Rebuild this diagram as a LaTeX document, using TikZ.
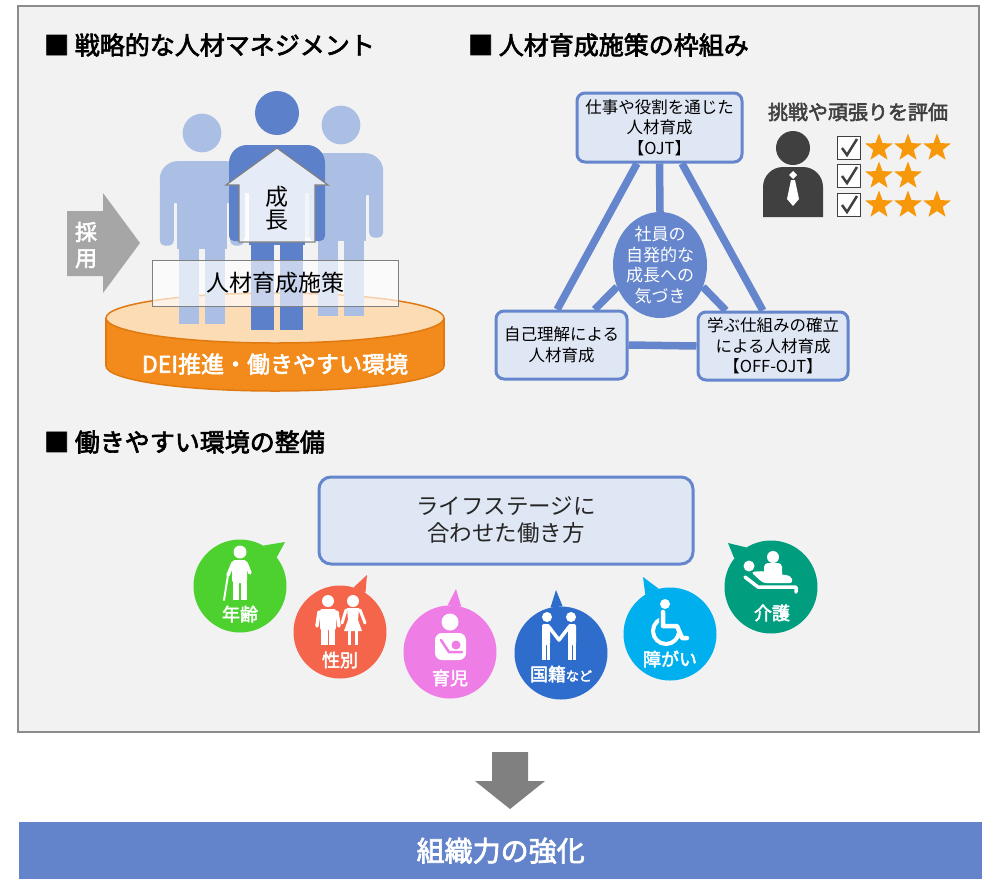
\documentclass[tikz,border=0pt]{standalone}
\usepackage{fontspec}
\setmainfont{Noto Sans CJK JP}
\newfontfamily\semibold{Noto Sans CJK JP}[FakeBold=2.6]
\usetikzlibrary{shapes.geometric,calc}

% colours
\definecolor{panelfill}{HTML}{F2F2F2}
\definecolor{panelline}{HTML}{8C8C8C}
\definecolor{boxfill}{HTML}{E0E7F4}
\definecolor{boxline}{HTML}{6586CC}
\definecolor{textdark}{HTML}{262626}
\definecolor{staffdark}{HTML}{5D80CB}
\definecolor{stafflight}{HTML}{ABBFE4}
\definecolor{baseside}{HTML}{F28B1C}
\definecolor{baseedge}{HTML}{E07A10}
\definecolor{basetop}{HTML}{FCDCB5}
\definecolor{hiregray}{HTML}{A6A6A6}
\definecolor{evaldark}{HTML}{404040}
\definecolor{stargold}{HTML}{F7980B}
\definecolor{ageclr}{HTML}{4CD12F}
\definecolor{genderclr}{HTML}{F4654C}
\definecolor{childclr}{HTML}{EE7DE5}
\definecolor{nationclr}{HTML}{2E6DCC}
\definecolor{disabclr}{HTML}{00B0EE}
\definecolor{careclr}{HTML}{009E7E}
\definecolor{resultbar}{HTML}{6383CA}

\tikzset{
  heading/.style={anchor=west, inner sep=0pt, font=\fontsize{25}{30}\semibold},
  policy/.style={draw=boxline, line width=3pt, fill=boxfill, rounded corners=8pt,
    align=center, inner sep=2pt, font=\fontsize{16.5}{20.5}\selectfont},
  link/.style={boxline, line width=7.5pt},
  bubble/.style={circle, minimum size=93pt, inner sep=0pt},
  bubbletext/.style={text=white, inner sep=0pt, font=\fontsize{18}{20}\semibold},
  icon/.style={white, line cap=round, line join=round},
  tickbox/.style={draw=evaldark, line width=1.8pt, fill=white, minimum size=23pt, inner sep=0pt},
  rate/.style={star, star points=5, star point ratio=2.4, fill=stargold, minimum size=29pt, inner sep=0pt},
  % standing person, head centre at the origin
  pics/staff/.style={code={
    \fill[#1] (0,0) circle (22);
    \fill[#1, rounded corners=18pt] (-48,80) -- (-48,32) -- (48,32) -- (48,80) -- cycle;
    \fill[#1, rounded corners=5pt] (-48,60) rectangle (-32,128);
    \fill[#1, rounded corners=5pt] (32,60) rectangle (48,128);
    \fill[#1] (-28,60) rectangle (28,132);
    \fill[#1] (-26,125) rectangle (-3,217);
    \fill[#1] (3,125) rectangle (26,217);
  }}
}

\begin{document}
\begin{tikzpicture}[x=1pt, y=-1pt]
\useasboundingbox (0,0) rectangle (982,879);
\fill[white] (0,0) rectangle (982,879);

% grey panel
\draw[panelline, line width=2.5pt, fill=panelfill] (18,6) rectangle (979,732);

% headings
\node[heading] (hmanage) at (44,45) {■ 戦略的な人材マネジメント};
\node[heading] (hframe) at (468,45) {■ 人材育成施策の枠組み};
\node[heading] (henv) at (44,442) {■ 働きやすい環境の整備};

% base cylinder
\fill[baseside] (106,318) rectangle (444,366);
\fill[baseside] (275,366) ellipse (169 and 25);
\begin{scope}
  \clip (100,366) rectangle (450,400);
  \draw[baseedge, line width=1.5pt] (275,366) ellipse (169 and 25);
\end{scope}
\draw[baseedge, line width=1.5pt] (106,318) -- (106,366) (444,318) -- (444,366);
\draw[baseedge, line width=1.5pt, fill=basetop] (275,318) ellipse (169 and 25);
\node[text=white, font=\fontsize{23}{26}\semibold] (dei) at (275,364) {DEI推進・働きやすい環境};

% staff
\pic[scale=0.88] at (202,133) {staff=stafflight};
\pic[scale=0.88] at (341,125) {staff=stafflight};
\pic at (277,113) {staff=staffdark};

% growth arrow
\filldraw[draw=gray, line width=1.2pt, fill=white, fill opacity=0.85]
  (277,148) -- (328,185) -- (315,185) -- (315,242) -- (239,242) -- (239,185) -- (226,185) -- cycle;
\node[font=\fontsize{23}{23}\selectfont, align=center] (growth) at (277,208) {成\\長};

\node[draw=gray, line width=1pt, fill=white, fill opacity=0.65, text opacity=1,
  minimum width=246pt, minimum height=46pt, font=\fontsize{23}{26}\selectfont] (policy) at (275,283) {人材育成施策};

% hiring arrow
\fill[hiregray] (67,211) -- (103,211) -- (103,193) -- (140,243) -- (103,293) -- (103,276) -- (67,276) -- cycle;
\node[text=white, font=\fontsize{22}{26}\semibold, align=center] (hire) at (86,245) {採\\用};

% training framework
\node[policy, minimum width=165pt, minimum height=69pt] (ojt) at (659.5,127.5) {仕事や役割を通じた\\人材育成\\【OJT】};
\node[policy, minimum width=131pt, minimum height=68pt] (self) at (561.5,345) {自己理解による\\人材育成};
\node[policy, minimum width=150pt, minimum height=68pt] (offjt) at (773,346) {学ぶ仕組みの確立\\による人材育成\\【OFF-OJT】};
\node[ellipse, fill=boxline, minimum width=94pt, minimum height=106pt, inner sep=0pt] (aware) at (660,265) {};
\node[text=white, align=center, font=\fontsize{17}{20.7}\selectfont] (awaretext) at (aware) {社員の\\自発的な\\成長への\\気づき};

\draw[link] (ojt.238) -- (self.97);
\draw[link] (ojt.302) -- (offjt.106);
\draw[link] (self.east) -- (offjt.west);
\draw[link] (ojt.south) -- (aware.north);
\draw[link] (aware.207) -- (self.47);
\draw[link] (aware.-27) -- (offjt.143);

% evaluation
\node[font=\fontsize{20}{24}\semibold, text=evaldark, inner sep=0pt] (evaltitle) at (858,112) {挑戦や頑張りを評価};
\fill[evaldark] (793,148) circle (17);
\fill[evaldark, rounded corners=20pt] (763,217) -- (763,167) -- (823,167) -- (823,217);
\fill[white] (793,171) -- (797,175) -- (793,179) -- (789,175) -- cycle;
\fill[white] (791,180) -- (795,180) -- (799,199) -- (793,206) -- (787,199) -- cycle;
\foreach \ry/\nstars in {148/3,176/2,205/3}{
  \node[tickbox] (tick\ry) at (849,\ry) {};
  \draw[evaldark, line width=2.5pt] ($(tick\ry)+(-7,0)$) -- ($(tick\ry)+(-2,7)$) -- ($(tick\ry)+(8,-9)$);
  \foreach \k in {1,...,\nstars}
    \node[rate] (star\ry-\k) at ({850+29*\k},\ry) {};
}

% working environment
\node[policy, rounded corners=12pt, minimum width=374pt, minimum height=87pt,
  font=\fontsize{22.5}{27}\selectfont, text=textdark] (lifestage) at (506,520.5) {ライフステージに\\合わせた働き方};

\foreach \nm/\clr/\cx/\cy/\tx/\ty/\aa/\ab in {
    age/ageclr/240/586/285/542/38/60,
    gender/genderclr/340/632/367/575/57/73,
    child/childclr/450/652/456/589/76/93,
    nation/nationclr/561/653/556/590/88/103,
    disab/disabclr/670/634/643/577/104/122,
    care/careclr/771/587/728/543/122/142}{
  \node[bubble, fill=\clr] (\nm) at (\cx,\cy) {};
  \coordinate (\nm tip) at (\tx,\ty);
  \fill[\clr] (\nm.\aa) -- (\nm tip) -- (\nm.\ab) -- cycle;
}

% age
\begin{scope}[shift={(age)}]
  \fill[white] (0,-34) circle (6.5);
  \fill[white, rounded corners=3pt] (-8,-26) rectangle (7,-3);
  \fill[white] (-7,-5) rectangle (-1.5,14);
  \fill[white] (1,-5) rectangle (6.5,14);
  \draw[icon, line width=3.5pt] (-7,-23) -- (-12,-11);
  \draw[icon, line width=3.5pt] (6,-23) -- (10,-13);
  \draw[icon, line width=2pt] (-12,-11) -- (-16,14);
\end{scope}
\node[bubbletext] (agelabel) at ($(age)+(0,28)$) {年齢};

% gender
\begin{scope}[shift={(gender)}]
  \fill[white] (-12,-31) circle (6);
  \fill[white, rounded corners=2pt] (-20,-23) rectangle (-4,-2);
  \fill[white] (-19,-4) rectangle (-12.5,13);
  \fill[white] (-11.5,-4) rectangle (-5,13);
  \draw[icon, line width=3.5pt] (-21,-20) -- (-23,-6);
  \draw[icon, line width=3.5pt] (-3,-20) -- (-1,-6);
  \fill[white] (13,-31) circle (6);
  \fill[white] (7,-24) -- (19,-24) -- (18,-12) -- (22,-1) -- (4,-1) -- (8,-12) -- cycle;
  \fill[white] (7.5,-2) rectangle (11,13);
  \fill[white] (14.5,-2) rectangle (18,13);
  \draw[icon, line width=3pt] (6,-22) -- (2,-9);
  \draw[icon, line width=3pt] (20,-22) -- (25,-9);
\end{scope}
\node[bubbletext] (genderlabel) at ($(gender)+(0,28)$) {性別};

% childcare
\begin{scope}[shift={(child)}]
  \fill[white] (0,-30) circle (8.5);
  \fill[white, rounded corners=7pt] (-15,-19) rectangle (16,8);
  \fill[childclr] (6,-7) circle (4.5);
  \draw[childclr, line width=2.5pt, line cap=round] (-9,-12) -- (-1,0) -- (12,0);
\end{scope}
\node[bubbletext] (childlabel) at ($(child)+(0,26)$) {育児};

% nationality
\begin{scope}[shift={(nation)}]
  \fill[white] (-14,-36) circle (5);
  \fill[white] (10,-36) circle (5);
  \fill[white, rounded corners=2pt] (-19,-29) rectangle (-11,-8);
  \fill[white, rounded corners=2pt] (7,-29) rectangle (15,-8);
  \fill[white] (-19,-9) rectangle (-15.5,7);
  \fill[white] (-14.5,-9) rectangle (-11,7);
  \fill[white] (7,-9) rectangle (10.5,7);
  \fill[white] (11.5,-9) rectangle (15,7);
  \draw[icon, line width=3.5pt] (-12,-26) -- (-2,-13) -- (8,-26);
\end{scope}
\node[bubbletext] (nationlabel) at ($(nation)+(0,21)$) {国籍{\fontsize{13}{15}\selectfont など}};

% disability
\begin{scope}[shift={(disab)}]
  \fill[white] (-5,-30) circle (5);
  \draw[icon, line width=4.5pt] (-7,-22) -- (-7,-8) -- (7,-8) -- (12,4) -- (17,4);
  \begin{scope}
    \clip (-30,-30) -- (-11,-30) -- (-11,-2) -- (30,0) -- (30,30) -- (-30,30) -- cycle;
    \draw[white, line width=4pt] (-4,-3) circle (13);
  \end{scope}
\end{scope}
\node[bubbletext] (disablabel) at ($(disab)+(0,25)$) {障がい};

% nursing care
\begin{scope}[shift={(care)}]
  \fill[white] (2,-30) circle (6);
  \fill[white, rounded corners=4pt] (-7,-24) rectangle (11,-8);
  \fill[white] (-22,-21) circle (5.5);
  \fill[white, rounded corners=3pt] (-20,-15) -- (-10,-16) -- (20,-11) -- (22,-4) -- (-8,-4) -- cycle;
  \draw[icon, line width=3.5pt] (-26,-10) -- (-13,0) -- (25,0) -- (25,5);
\end{scope}
\node[bubbletext] (carelabel) at ($(care)+(1,26)$) {介護};

% result
\fill[gray] (492,752) -- (528,752) -- (528,781) -- (545,781) -- (510,809) -- (475,781) -- (492,781) -- cycle;
\node[fill=resultbar, minimum width=963pt, minimum height=57pt, inner sep=0pt, anchor=north west,
  text=white, font=\fontsize{28}{30}\semibold] (result) at (19,822) {組織力の強化};
\end{tikzpicture}
\end{document}
